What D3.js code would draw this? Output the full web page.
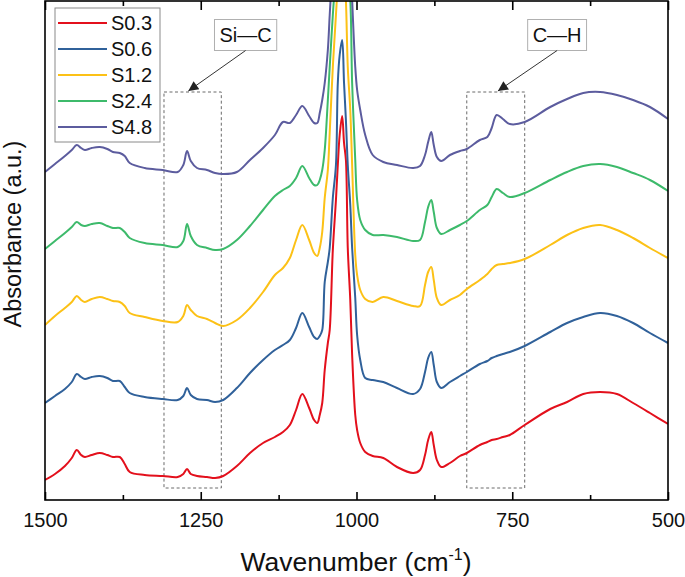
<!DOCTYPE html>
<html>
<head>
<meta charset="utf-8">
<script src="https://cdn.jsdelivr.net/npm/d3@7"></script>
<style>
  html, body { margin: 0; padding: 0; background: #fff; }
  svg { display: block; font-family: "Liberation Sans", Arial, Helvetica, sans-serif; }
</style>
</head>
<body>
<svg id="chart" width="685" height="577"></svg>
<script>
// ---- data ----
const wavenumber = [1500,1484,1468,1457,1449,1442,1436,1425,1412,1400,
  1391,1380,1372,1364,1340,1311,1287,1278,1272,1266,
  1256,1240,1227,1214,1192,1171,1150,1131,1118,1107,
  1097,1087,1076,1068,1063,1059,1055,1051,1046,1043,
  1038,1033,1030,1027,1023,1020,1017,1014,1010,1007,
  1002,999,994,986,974,957,935,909,898,890,
  885,880,876,871,864,850,834,823,802,790,
  783,775,765,754,730,689,662,636,609,582,
  556,529,500];

const seriesNames = ["S0.3", "S0.6", "S1.2", "S2.4", "S4.8"];
const seriesColors = ["#e3101c", "#30619a", "#fcc116", "#3dba6b", "#5c5c9e"];

const s03 = [20,26,34,42,50,45,43,45,47,45,
  43,43,36,28,25,24,23,26,31,26,
  24,23,22,24,34,47,57,63,68,75,
  90,106,92,80,77,85,97,130,157,170,
  250,300,335,365,384,357,340,252,200,145,
  85,70,57,48,44,42,33,27,30,45,
  60,68,55,40,33,37,44,47,55,58,
  60,61,63,65,75,91,98,106,108,106,
  97,87,76];

const s06 = [97,104,111,118,126,123,121,123,124,122,
  119,119,113,107,103,101,100,104,112,105,
  101,100,98,100,112,127,140,150,155,160,
  172,187,173,163,161,164,170,218,238,252,
  302,335,417,445,460,417,380,335,295,252,
  202,165,140,122,120,118,112,106,111,128,
  142,148,135,118,112,118,124,128,136,139,
  142,144,146,148,154,168,177,183,187,184,
  177,167,157];

const s12 = [175,184,192,198,204,200,198,201,203,201,
  199,198,194,187,183,179,178,184,195,190,
  184,181,177,174,180,192,208,225,232,242,
  260,275,260,247,244,252,268,302,330,367,
  433,485,515,535,540,535,500,433,390,335,
  245,225,210,201,198,203,199,194,194,215,
  228,233,220,202,195,200,205,211,220,226,
  231,235,236,237,241,255,265,272,275,270,
  262,252,242];

const s24 = [251,259,267,273,278,275,274,276,277,274,
  272,272,268,262,257,255,253,259,276,264,
  255,252,250,251,260,274,290,304,310,314,
  322,334,322,315,315,320,330,350,400,433,
  485,530,560,580,590,580,555,525,500,417,
  340,300,280,270,265,265,263,259,260,278,
  293,300,288,272,266,270,275,279,290,295,
  303,311,307,303,307,320,328,334,336,333,
  327,320,309];

const s48 = [328,336,344,350,355,352,350,352,353,351,
  348,347,344,337,332,330,328,335,349,339,
  332,330,327,326,328,340,352,365,378,377,
  385,394,384,377,377,387,400,417,450,485,
  540,590,620,640,650,640,620,590,545,500,
  433,410,390,365,345,338,335,332,334,345,
  358,368,355,343,339,345,349,351,360,363,
  372,385,381,376,378,393,401,407,408,405,
  400,393,381];

const seriesValues = [s03, s06, s12, s24, s48];

const majorTicks = [1500, 1250, 1000, 750, 500];
const majorTickLabels = ["1500", "1250", "1000", "750", "500"];
const minorTicks = [1375, 1125, 875, 625];

// highlighted regions
const regionLabels = ["Si\u2014C", "C\u2014H"];
const regionRanges = [[1309, 1217], [823, 730]];
const regionLabelWn = [1178, 678];
const regionArrowTipWn = [1270, 773];

// ---- layout ----
const svg = d3.select("#chart");
const mLeft = 45, mRight = 668, mTop = 0, mBottom = 500;
const x = d3.scaleLinear().domain([1500, 500]).range([mLeft, mRight]);
const y = d3.scaleLinear().domain([0, 500]).range([mBottom, mTop]);

const defs = svg.append("defs");
defs.append("clipPath").attr("id", "plotclip")
  .append("rect").attr("x", mLeft).attr("y", 1).attr("width", mRight - mLeft).attr("height", mBottom - 1);

// dashed region boxes
const boxTop = 408, boxBottom = 12;
regionRanges.forEach(r => {
  svg.append("rect")
    .attr("x", x(r[0])).attr("y", y(boxTop))
    .attr("width", x(r[1]) - x(r[0])).attr("height", y(boxBottom) - y(boxTop))
    .attr("fill", "none").attr("stroke", "#6a6a6a").attr("stroke-width", 1)
    .attr("stroke-dasharray", "3,2.5");
});

// curves
const line = d3.line().curve(d3.curveCatmullRom.alpha(0.5));
const plot = svg.append("g").attr("clip-path", "url(#plotclip)");
seriesValues.forEach((vals, i) => {
  const pts = wavenumber.map((w, j) => [x(w), y(vals[j])]);
  plot.append("path")
    .attr("d", line(pts))
    .attr("fill", "none")
    .attr("stroke", seriesColors[i])
    .attr("stroke-width", 2)
    .attr("stroke-linejoin", "round");
});

// frame
svg.append("rect").attr("x", mLeft).attr("y", 1).attr("width", mRight - mLeft).attr("height", mBottom - 1)
  .attr("fill", "none").attr("stroke", "#000").attr("stroke-width", 1.6);

// bottom axis
const axB = svg.append("g").attr("transform", `translate(0,${mBottom})`)
  .call(d3.axisBottom(x).tickValues(majorTicks).tickSizeInner(-8).tickSizeOuter(0)
    .tickFormat((d, i) => majorTickLabels[i]));
axB.select(".domain").remove();
axB.selectAll(".tick line").attr("stroke", "#000").attr("stroke-width", 1.6);
axB.selectAll(".tick text").attr("font-size", 20).attr("fill", "#111")
  .attr("font-family", "'Liberation Sans', Arial, sans-serif").attr("y", 13).attr("dy", "0.71em");

const axBm = svg.append("g").attr("transform", `translate(0,${mBottom})`)
  .call(d3.axisBottom(x).tickValues(minorTicks).tickSizeInner(-5).tickSizeOuter(0).tickFormat(""));
axBm.select(".domain").remove();
axBm.selectAll(".tick line").attr("stroke", "#000").attr("stroke-width", 1.6);

// top axis (mirror ticks)
const axT = svg.append("g").attr("transform", `translate(0,1)`)
  .call(d3.axisTop(x).tickValues(majorTicks).tickSizeInner(-9).tickSizeOuter(0).tickFormat(""));
axT.select(".domain").remove();
axT.selectAll(".tick line").attr("stroke", "#000").attr("stroke-width", 1.6);
const axTm = svg.append("g").attr("transform", `translate(0,1)`)
  .call(d3.axisTop(x).tickValues(minorTicks).tickSizeInner(-5).tickSizeOuter(0).tickFormat(""));
axTm.select(".domain").remove();
axTm.selectAll(".tick line").attr("stroke", "#000").attr("stroke-width", 1.6);

// axis titles
const xt = svg.append("text").attr("x", 356).attr("y", 571)
  .attr("text-anchor", "middle").attr("font-size", 26.5).attr("fill", "#111");
xt.append("tspan").text("Wavenumber (cm");
xt.append("tspan").text("-1").attr("font-size", 16).attr("dy", -11);
xt.append("tspan").text(")").attr("dy", 11);

svg.append("text").attr("transform", "translate(21,234) rotate(-90)")
  .attr("text-anchor", "middle").attr("font-size", 23.5).attr("fill", "#111")
  .text("Absorbance (a.u.)");

// legend
const lg = svg.append("g");
lg.append("rect").attr("x", 55).attr("y", 8).attr("width", 105).attr("height", 134)
  .attr("fill", "#fff").attr("stroke", "#8a8a8a").attr("stroke-width", 1);
seriesNames.forEach((n, i) => {
  const cy = 23 + i * 26;
  lg.append("line").attr("x1", 58).attr("x2", 107).attr("y1", cy).attr("y2", cy)
    .attr("stroke", seriesColors[i]).attr("stroke-width", 2);
  lg.append("text").attr("x", 111).attr("y", cy + 7).attr("font-size", 20).attr("fill", "#111").text(n);
});

// annotations
defs.append("marker").attr("id", "arrow")
  .attr("viewBox", "0 0 10 10").attr("refX", 10).attr("refY", 5)
  .attr("markerWidth", 12).attr("markerHeight", 10).attr("markerUnits", "userSpaceOnUse")
  .attr("orient", "auto")
  .append("path").attr("d", "M0,0 L10,5 L0,10 Z").attr("fill", "#222");

const labelY = 465, labelH = 31;
regionLabels.forEach((t, i) => {
  const cx = x(regionLabelWn[i]);
  const cy = y(labelY);
  const g = svg.append("g");
  const txt = g.append("text").attr("x", cx).attr("y", cy + 7).attr("text-anchor", "middle")
    .attr("font-size", 20).attr("fill", "#111").text(t);
  const w = txt.node().getComputedTextLength() + 10;
  g.insert("rect", "text").attr("x", cx - w / 2).attr("y", cy - labelH / 2)
    .attr("width", w).attr("height", labelH)
    .attr("fill", "#fff").attr("stroke", "#b0b0b0").attr("stroke-width", 1);
  svg.append("line")
    .attr("x1", cx).attr("y1", cy + labelH / 2)
    .attr("x2", x(regionArrowTipWn[i])).attr("y2", y(boxTop) - 1)
    .attr("stroke", "#333").attr("stroke-width", 1)
    .attr("marker-end", "url(#arrow)");
});
</script>
</body>
</html>
